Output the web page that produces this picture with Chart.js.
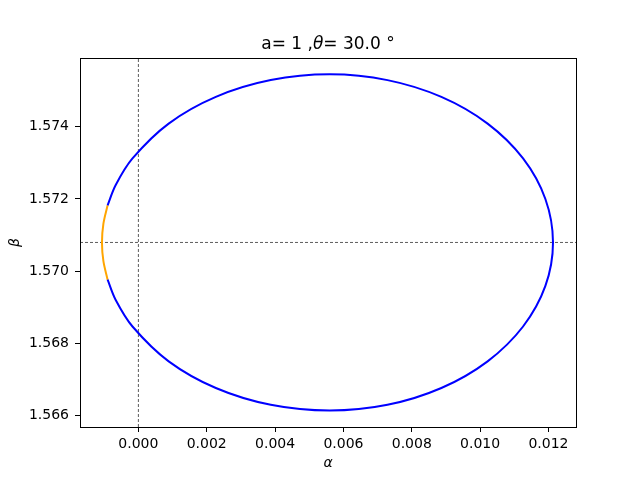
<!DOCTYPE html>
<html lang="en">
<head>
  <meta charset="UTF-8" />
  <title>Shadow contour</title>
  <script src="https://cdn.jsdelivr.net/npm/chart.js"></script>
  <style>
    body { margin: 0; background: #fff; }
    canvas { display: block; }
  </style>
</head>
<body>
  <canvas id="chart" width="640" height="480"></canvas>
  <script>
    // contour: blue part goes clockwise from the top of the orange arc
    const blueAlpha = [-0.000901, -0.000664, -0.000173, 0.000886, 0.002266, 0.003873, 0.005598,
      0.007289, 0.008866, 0.010219, 0.011257, 0.011910, 0.012133,
      0.011910, 0.011257, 0.010219, 0.008866, 0.007289, 0.005598,
      0.003873, 0.002266, 0.000886, -0.000173, -0.000664, -0.000901];
    const blueBeta = [1.571826, 1.572388, 1.573123, 1.574087, 1.574826, 1.575291, 1.575450,
      1.575291, 1.574826, 1.574087, 1.573123, 1.572000, 1.570796,
      1.569592, 1.568469, 1.567505, 1.566766, 1.566301, 1.566142,
      1.566301, 1.566766, 1.567505, 1.568469, 1.569204, 1.569766];

    const orangeAlpha = [-0.000901, -0.001024, -0.001066, -0.001024, -0.000901];
    const orangeBeta = [1.571826, 1.571315, 1.570796, 1.570277, 1.569766];

    const crossAlpha = 0;          // vertical dashed line
    const crossBeta = 1.570796;    // horizontal dashed line

    const xRange = [-0.001709, 0.012806];
    const yRange = [1.565687, 1.575903];
    const xTicks = [0.000, 0.002, 0.004, 0.006, 0.008, 0.010, 0.012];
    const yTicks = [1.566, 1.568, 1.570, 1.572, 1.574];

    const titleParts = [['a= 1 ,', false], ['θ', true], ['= 30.0 °', false]];
    const xLabel = 'α';
    const yLabel = 'β';

    const FONT = '"DejaVu Sans", sans-serif';

    function pts(xs, ys) {
      return xs.map((x, i) => ({ x: x, y: ys[i] }));
    }

    const frameAndText = {
      id: 'frameAndText',
      afterDraw(chart) {
        const ctx = chart.ctx;
        const a = chart.chartArea;
        ctx.save();
        ctx.strokeStyle = '#000';
        ctx.lineWidth = 1;
        ctx.strokeRect(Math.round(a.left) + 0.5, Math.round(a.top) + 0.5,
          Math.round(a.right - a.left), Math.round(a.bottom - a.top));

        // title, with the theta in italic
        ctx.fillStyle = '#000';
        ctx.textBaseline = 'alphabetic';
        let total = 0;
        titleParts.forEach(p => {
          ctx.font = (p[1] ? 'italic ' : '') + '17px ' + FONT;
          total += ctx.measureText(p[0]).width;
        });
        let x = (a.left + a.right) / 2 - total / 2;
        titleParts.forEach(p => {
          ctx.font = (p[1] ? 'italic ' : '') + '17px ' + FONT;
          ctx.textAlign = 'left';
          ctx.fillText(p[0], x, 49);
          x += ctx.measureText(p[0]).width;
        });

        // axis labels
        ctx.font = 'italic 14px ' + FONT;
        ctx.textAlign = 'center';
        ctx.textBaseline = 'middle';
        ctx.fillText(xLabel, (a.left + a.right) / 2, 463);
        ctx.translate(15, (a.top + a.bottom) / 2);
        ctx.rotate(-Math.PI / 2);
        ctx.fillText(yLabel, 0, 0);
        ctx.restore();
      }
    };

    new Chart(document.getElementById('chart'), {
      type: 'scatter',
      data: {
        datasets: [
          { data: pts(blueAlpha, blueBeta), borderColor: '#0000ff', borderWidth: 2, tension: 0.34 },
          { data: pts(orangeAlpha, orangeBeta), borderColor: '#ffa500', borderWidth: 2, tension: 0.34 },
          { data: [{ x: crossAlpha, y: yRange[0] }, { x: crossAlpha, y: yRange[1] }],
            borderColor: '#333', borderWidth: 0.8, borderDash: [3, 2] },
          { data: [{ x: xRange[0], y: crossBeta }, { x: xRange[1], y: crossBeta }],
            borderColor: '#333', borderWidth: 0.8, borderDash: [3, 2] }
        ].map(d => Object.assign({ showLine: true, pointRadius: 0, fill: false }, d))
      },
      options: {
        responsive: false,
        animation: false,
        events: [],
        layout: { padding: { left: 0, top: 58, right: 64, bottom: 0 } },
        plugins: { legend: { display: false }, tooltip: { enabled: false }, title: { display: false } },
        scales: {
          x: {
            type: 'linear',
            min: xRange[0],
            max: xRange[1],
            afterFit: s => { s.height = 53; },
            afterBuildTicks: s => { s.ticks = xTicks.map(v => ({ value: v })); },
            grid: { drawOnChartArea: false, color: '#000', tickLength: 5 },
            border: { color: '#000' },
            ticks: {
              color: '#000', padding: 4, maxRotation: 0, autoSkip: false,
              font: { family: FONT, size: 14 },
              callback: v => v.toFixed(3)
            }
          },
          y: {
            type: 'linear',
            min: yRange[0],
            max: yRange[1],
            afterFit: s => { s.width = 80; },
            afterBuildTicks: s => { s.ticks = yTicks.map(v => ({ value: v })); },
            grid: { drawOnChartArea: false, color: '#000', tickLength: 5 },
            border: { color: '#000' },
            ticks: {
              color: '#000', padding: 6, autoSkip: false,
              font: { family: FONT, size: 14 },
              callback: v => v.toFixed(3)
            }
          }
        }
      },
      plugins: [frameAndText]
    });
  </script>
</body>
</html>
